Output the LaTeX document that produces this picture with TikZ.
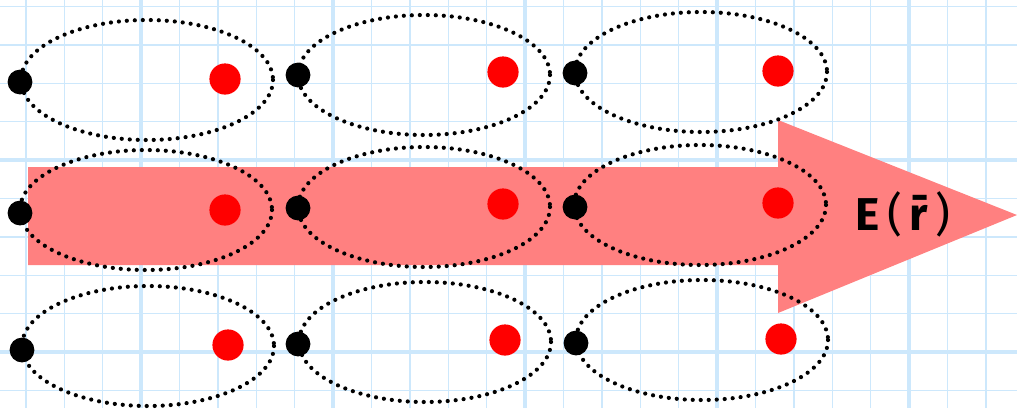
\documentclass[tikz,border=0pt]{standalone}
\usepackage{fontspec}
\setsansfont{Fira Sans}
\definecolor{gridblue}{RGB}{205,232,252}
\definecolor{fieldpink}{RGB}{255,128,128}
\begin{document}
\begin{tikzpicture}[x=0.5pt, y=-0.5pt]
  \tikzset{
    thingrid/.style={gridblue, line width=0.7pt},
    thickgrid/.style={gridblue, line width=1.6pt},
    shell/.style={black, line width=2.1pt, line cap=round, dash pattern=on 0pt off 4pt},
  }
  \useasboundingbox (0,0) rectangle (1017,408);

  % graph paper
  \foreach \k in {0,...,27} {
    \draw[thingrid] (-12.6+38.4*\k,0) -- (-12.6+38.4*\k,408);
  }
  \foreach \k in {0,...,11} {
    \draw[thingrid] (0,6.4+38.4*\k) -- (1017,6.4+38.4*\k);
  }
  \foreach \x in {141,333,525,717,909} \draw[thickgrid] (\x,0) -- (\x,408);
  \foreach \y in {160,352} \draw[thickgrid] (0,\y) -- (1017,\y);

  % applied field
  \fill[fieldpink] (28,167) -- (778,167) -- (778,120) -- (1017,215)
    -- (778,313) -- (778,265) -- (28,265) -- cycle;
  \node[font=\fontsize{23}{28}\selectfont\sffamily] (field) at (903,214)
    {\textbf{E}\,(\,\textbf{\=r}\,)};

  % dipoles: ellipse centre, negative end, positive end
  \foreach \ex/\ey/\nx/\ny/\px/\py in {
      147/80/20/82/225/79, 424/75/298/75/503/72, 701/72/575/73/778/71,
      146/210/20/213/225/210, 424/207/298/208/503/204, 700/205/575/207/778/203,
      148/346/22/350/228/345, 425/342/298/344/505/340, 702/340/576/343/781/339} {
    \draw[shell] (\ex,\ey) ellipse [x radius=126, y radius=60];
    \fill[black] (\nx,\ny) circle (6.2pt);
    \fill[red] (\px,\py) circle (7.8pt);
  }
\end{tikzpicture}
\end{document}
